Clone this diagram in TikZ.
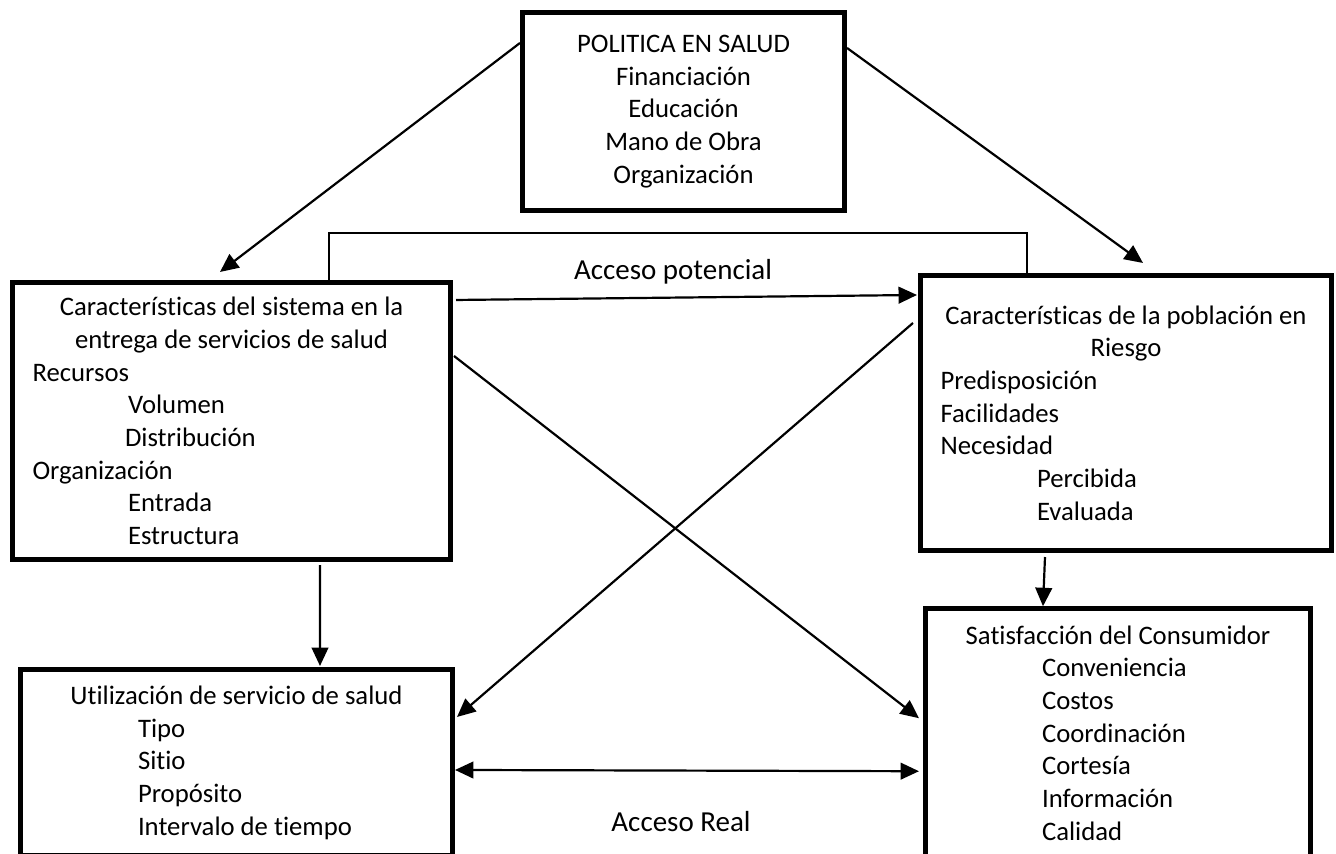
\documentclass[tikz,border=0pt]{standalone}
\usepackage{fontspec}
\setmainfont{Carlito}[Ligatures = CommonOff]
\usetikzlibrary{arrows.meta, calc}
\newcommand{\espacios}{\spaceskip=0pt\relax\xspaceskip=0pt\relax}

\begin{document}
\begin{tikzpicture}[
                x = 0.02cm, y = -0.02cm, % one unit per pixel, y downwards
                > = {Triangle[length=10.5pt, width=9.5pt]}, % arrow head style
                line width = 1.25pt % line style
            ]

            \useasboundingbox (0,0) rectangle (1336,854);

            \tikzstyle{caja}=[draw = black, line width = 2.9pt, inner xsep = 0.4cm,
            font = \fontsize{15.2}{18.6}\selectfont, execute at begin node = \espacios]
            \tikzstyle{rotulo}=[font = \fontsize{16.5}{20}\selectfont]

            \node (politica) [caja, minimum width = 6.44cm, minimum height = 3.96cm,
            align = center] at (683.5,111.5) {POLITICA EN SALUD\\ Financiación\\
            Educación\\ Mano de Obra\\ Organización};

            \node (sistema) [caja, minimum width = 8.76cm, minimum height = 5.54cm,
            text width = 7.96cm, align = left] at (231.5,421)
            {\makebox[\linewidth][c]{Características del sistema en la}\\
            \makebox[\linewidth][c]{entrega de servicios de salud}\\ Recursos\\
            \hspace*{1.91cm}Volumen\\ \hspace*{1.85cm}Distribución\\ Organización\\
            \hspace*{1.91cm}Entrada\\ \hspace*{1.91cm}Estructura};

            \node (poblacion) [caja, minimum width = 8.22cm, minimum height = 5.5cm,
            text width = 7.42cm, align = left] at (1126,413)
            {\makebox[\linewidth][c]{Características de la población en}\\
            \makebox[\linewidth][c]{Riesgo}\\ Predisposición\\ Facilidades\\ Necesidad\\
            \hspace*{1.93cm}Percibida\\ \hspace*{1.93cm}Evaluada};

            \node (utilizacion) [caja, minimum width = 8.64cm, minimum height = 3.73cm,
            text width = 7.84cm, align = left] at (236.5,762.75)
            {\makebox[\linewidth][c]{Utilización de servicio de salud}\\
            \hspace*{1.95cm}Tipo\\ \hspace*{1.95cm}Sitio\\ \hspace*{1.95cm}Propósito\\
            \hspace*{1.95cm}Intervalo de tiempo};

            \node (satisfaccion) [caja, minimum width = 7.7cm, minimum height = 4.97cm,
            text width = 6.9cm, align = left] at (1118,733)
            {\makebox[\linewidth][c]{Satisfacción del Consumidor}\\
            \hspace*{1.93cm}Conveniencia\\ \hspace*{1.93cm}Costos\\
            \hspace*{1.93cm}Coordinación\\ \hspace*{1.93cm}Cortesía\\
            \hspace*{1.93cm}Información\\ \hspace*{1.93cm}Calidad};

            \node (potencial) [rotulo] at (673,272) {Acceso potencial};
            \node (real) [rotulo] at (681,822) {Acceso Real};

            \path[->] ($(politica.north west)+(0,33)$) edge ($(sistema.north west)+(210,-8)$);
            \path[->] ($(politica.north east)+(0,38)$) edge ($(poblacion.north west)+(225,-10)$);
            \path[->] ($(sistema.north east)+(3,20)$) edge ($(poblacion.north west)+(-1,22)$);
            \path[->] ($(sistema.north east)+(1,76)$) edge ($(satisfaccion.north west)+(-4,112)$);
            \path[->] ($(poblacion.north west)+(-5,50)$) edge ($(utilizacion.north east)+(2,50)$);
            \path[->] ($(sistema.south west)+(310,3)$) edge ($(utilizacion.north west)+(302,-1)$);
            \path[->] ($(poblacion.south west)+(127,4)$) edge ($(satisfaccion.north west)+(120,0)$);
            \path[<->] ($(utilizacion.north east)+(0,103)$) edge ($(satisfaccion.north west)+(-4,165)$);

            \draw[line width = 0.6pt] ($(sistema.north west)+(319,0)$)
            |- ($(poblacion.north west)+(109,-40)$) -- ($(poblacion.north west)+(109,0)$);

        \end{tikzpicture}
\end{document}
